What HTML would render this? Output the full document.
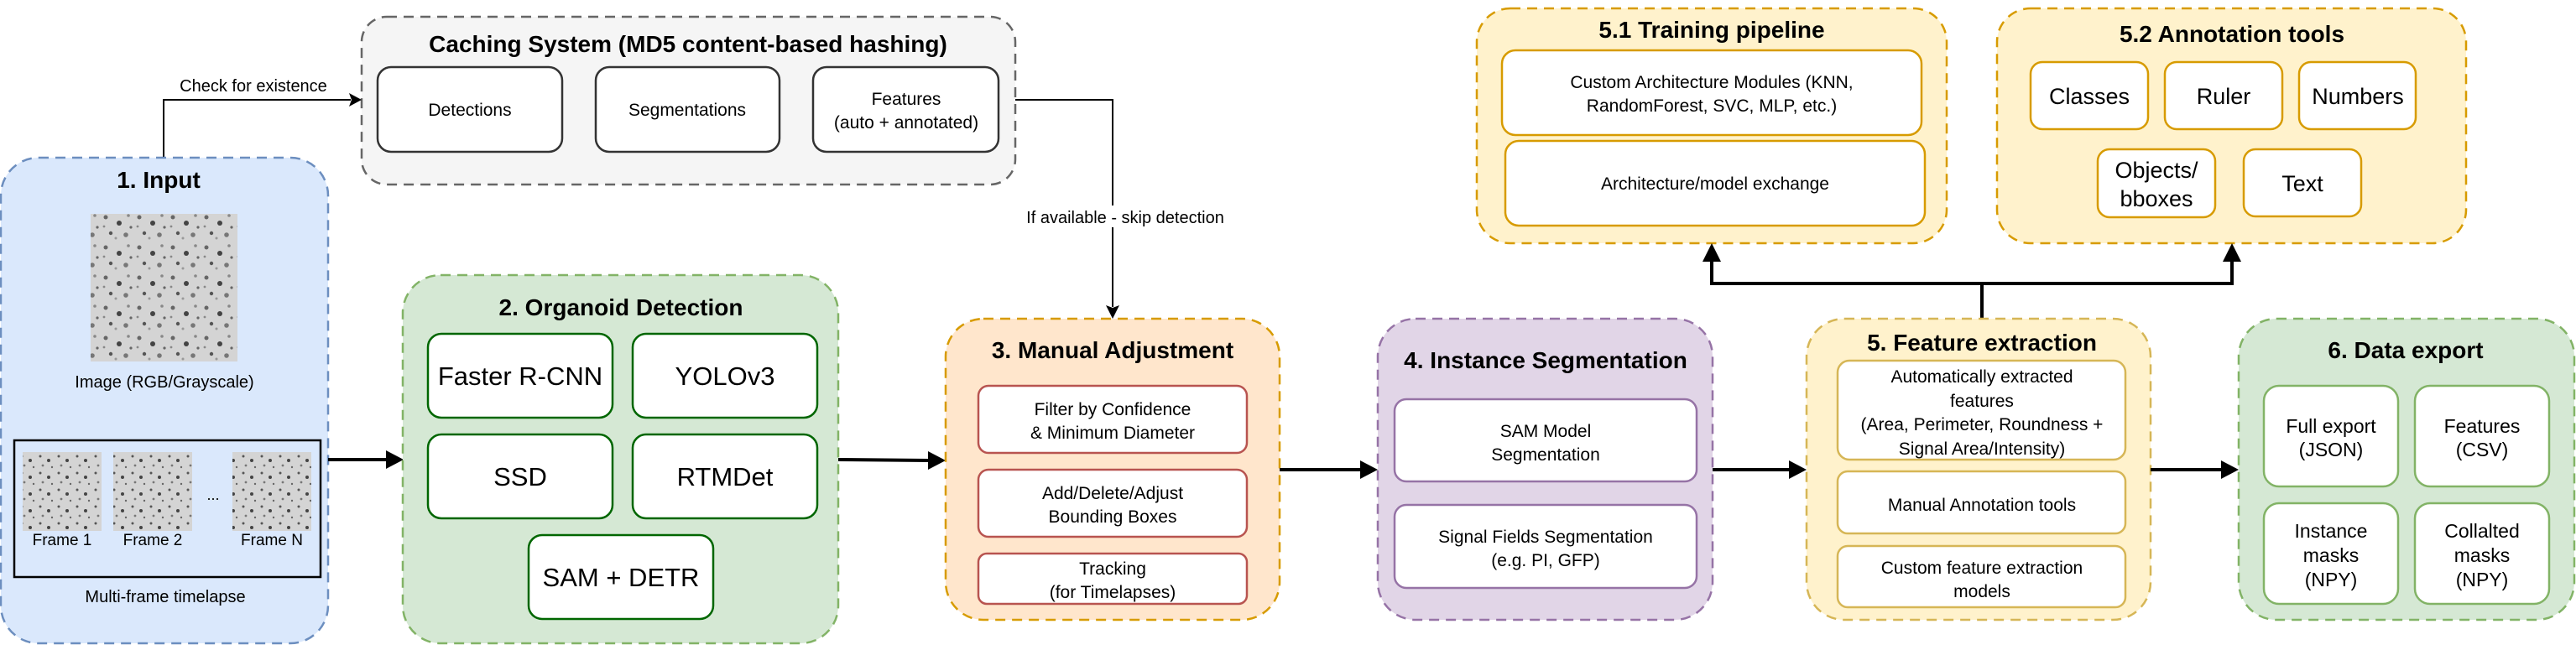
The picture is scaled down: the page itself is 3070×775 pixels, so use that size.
<!DOCTYPE html>
<html><head><meta charset="utf-8"><style>
html,body{margin:0;padding:0;background:#fff;}
svg text{font-family:"Liberation Sans",sans-serif;fill:#000;}
.t{font-weight:bold;font-size:28px;}
</style></head><body>
<svg width="3070" height="770" viewBox="0 0 3070 770" xmlns="http://www.w3.org/2000/svg">
<defs>
<pattern id="cells" width="40" height="36" patternUnits="userSpaceOnUse">
<rect width="40" height="36" fill="#d4d4d4"/>
<circle cx="6" cy="7" r="2.5" fill="#666"/><circle cx="22" cy="14" r="3" fill="#444"/>
<circle cx="33" cy="5" r="1.8" fill="#888"/><circle cx="12" cy="26" r="2.2" fill="#555"/>
<circle cx="30" cy="28" r="2.8" fill="#777"/><circle cx="18" cy="32" r="1.5" fill="#999"/>
<circle cx="36" cy="19" r="1.6" fill="#666"/><circle cx="4" cy="18" r="1.4" fill="#888"/>
</pattern>
<pattern id="cells2" width="22" height="20" patternUnits="userSpaceOnUse">
<rect width="22" height="20" fill="#d4d4d4"/>
<circle cx="4" cy="4" r="1.5" fill="#555"/><circle cx="14" cy="9" r="2" fill="#444"/>
<circle cx="7" cy="15" r="1.4" fill="#777"/><circle cx="18" cy="17" r="1.2" fill="#666"/>
</pattern>
</defs>

<!-- Caching -->
<rect x="431" y="20" width="779" height="200" rx="30" fill="#f5f5f5" stroke="#666" stroke-width="2.5" stroke-dasharray="12 8"/>
<text class="t" x="820" y="62" text-anchor="middle">Caching System (MD5 content-based hashing)</text>
<rect x="450" y="80" width="220" height="101" rx="16" fill="#fff" stroke="#333" stroke-width="2.5"/>
<text x="560" y="138" font-size="21" text-anchor="middle">Detections</text>
<rect x="710" y="80" width="219" height="101" rx="16" fill="#fff" stroke="#333" stroke-width="2.5"/>
<text x="819" y="138" font-size="21" text-anchor="middle">Segmentations</text>
<rect x="969" y="80" width="221" height="101" rx="16" fill="#fff" stroke="#333" stroke-width="2.5"/>
<text x="1080" y="125" font-size="21" text-anchor="middle">Features</text>
<text x="1080" y="153" font-size="21" text-anchor="middle">(auto + annotated)</text>

<!-- check for existence -->
<polyline points="195,188 195,119 418,119" fill="none" stroke="#000" stroke-width="2"/>
<polygon points="431,119 416,111 419,119 416,127" fill="#000"/>
<text x="302" y="109" font-size="20" text-anchor="middle">Check for existence</text>

<!-- If available -->
<polyline points="1210,119 1326,119 1326,366" fill="none" stroke="#000" stroke-width="2"/>
<polygon points="1326,380 1318,364 1326,367 1334,364" fill="#000"/>
<rect x="1210" y="245" width="262" height="26" fill="#fff"/>
<text x="1341" y="266" font-size="20" text-anchor="middle">If available - skip detection</text>

<!-- Input -->
<rect x="1" y="188" width="390" height="579" rx="45" fill="#dae8fc" stroke="#6c8ebf" stroke-width="2.5" stroke-dasharray="12 8"/>
<text class="t" x="189" y="224" text-anchor="middle">1. Input</text>
<rect x="108" y="255" width="175" height="176" fill="url(#cells)"/>
<text x="196" y="462" font-size="20" text-anchor="middle">Image (RGB/Grayscale)</text>
<rect x="17" y="525" width="365" height="163" fill="none" stroke="#000" stroke-width="2.5"/>
<rect x="27" y="539" width="94" height="94" fill="url(#cells2)"/>
<rect x="135" y="539" width="94" height="94" fill="url(#cells2)"/>
<rect x="277" y="539" width="94" height="94" fill="url(#cells2)"/>
<text x="254" y="596" font-size="18" text-anchor="middle">...</text>
<text x="74" y="650" font-size="19" text-anchor="middle">Frame 1</text>
<text x="182" y="650" font-size="19" text-anchor="middle">Frame 2</text>
<text x="324" y="650" font-size="19" text-anchor="middle">Frame N</text>
<text x="197" y="718" font-size="20" text-anchor="middle">Multi-frame timelapse</text>

<!-- arrow 1->2 -->
<line x1="391" y1="548" x2="462" y2="548" stroke="#000" stroke-width="4"/>
<polygon points="481,548 460,537 460,559" fill="#000"/>

<!-- Detection -->
<rect x="480" y="328" width="519" height="439" rx="45" fill="#d5e8d4" stroke="#82b366" stroke-width="2.5" stroke-dasharray="12 8"/>
<text class="t" x="740" y="376" text-anchor="middle">2. Organoid Detection</text>
<g fill="#fff" stroke="#006600" stroke-width="2.5">
<rect x="510" y="398" width="220" height="100" rx="16"/>
<rect x="754" y="398" width="220" height="100" rx="16"/>
<rect x="510" y="518" width="220" height="100" rx="16"/>
<rect x="754" y="518" width="220" height="100" rx="16"/>
<rect x="630" y="638" width="220" height="100" rx="16"/>
</g>
<g font-size="31" text-anchor="middle">
<text x="620" y="459">Faster R-CNN</text>
<text x="864" y="459">YOLOv3</text>
<text x="620" y="579">SSD</text>
<text x="864" y="579">RTMDet</text>
<text x="740" y="699">SAM + DETR</text>
</g>

<!-- arrow 2->3 -->
<line x1="999" y1="548" x2="1108" y2="549" stroke="#000" stroke-width="4"/>
<polygon points="1127,549 1106,538 1106,560" fill="#000"/>

<!-- Manual -->
<rect x="1127" y="380" width="398" height="359" rx="45" fill="#ffe6cc" stroke="#d79b00" stroke-width="2.5" stroke-dasharray="12 8"/>
<text class="t" x="1326" y="427" text-anchor="middle">3. Manual Adjustment</text>
<g fill="#fff" stroke="#b85450" stroke-width="2.5">
<rect x="1166" y="460" width="320" height="80" rx="12"/>
<rect x="1166" y="560" width="320" height="80" rx="12"/>
<rect x="1166" y="660" width="320" height="60" rx="10"/>
</g>
<g font-size="21" text-anchor="middle">
<text x="1326" y="495">Filter by Confidence</text>
<text x="1326" y="523">&amp; Minimum Diameter</text>
<text x="1326" y="595">Add/Delete/Adjust</text>
<text x="1326" y="623">Bounding Boxes</text>
<text x="1326" y="685">Tracking</text>
<text x="1326" y="713">(for Timelapses)</text>
</g>

<!-- arrow 3->4 -->
<line x1="1525" y1="560" x2="1623" y2="560" stroke="#000" stroke-width="4"/>
<polygon points="1642,560 1621,549 1621,571" fill="#000"/>

<!-- Segmentation -->
<rect x="1642" y="380" width="399" height="359" rx="45" fill="#e1d5e7" stroke="#9673a6" stroke-width="2.5" stroke-dasharray="12 8"/>
<text class="t" x="1842" y="439" text-anchor="middle">4. Instance Segmentation</text>
<g fill="#fff" stroke="#9673a6" stroke-width="2.5">
<rect x="1662" y="476" width="360" height="98" rx="14"/>
<rect x="1662" y="602" width="360" height="99" rx="14"/>
</g>
<g font-size="21" text-anchor="middle">
<text x="1842" y="521">SAM Model</text>
<text x="1842" y="549">Segmentation</text>
<text x="1842" y="647">Signal Fields Segmentation</text>
<text x="1842" y="675">(e.g. PI, GFP)</text>
</g>

<!-- arrow 4->5 -->
<line x1="2041" y1="560" x2="2134" y2="560" stroke="#000" stroke-width="4"/>
<polygon points="2153,560 2132,549 2132,571" fill="#000"/>

<!-- 5.1 -->
<rect x="1760" y="10" width="560" height="280" rx="40" fill="#fff2cc" stroke="#d79b00" stroke-width="2.5" stroke-dasharray="12 8"/>
<text class="t" x="2040" y="45" text-anchor="middle">5.1 Training pipeline</text>
<g fill="#fff" stroke="#d79b00" stroke-width="2.5">
<rect x="1790" y="60" width="500" height="101" rx="16"/>
<rect x="1794" y="168" width="500" height="101" rx="16"/>
</g>
<g font-size="21" text-anchor="middle">
<text x="2040" y="105">Custom Architecture Modules (KNN,</text>
<text x="2040" y="133">RandomForest, SVC, MLP, etc.)</text>
<text x="2044" y="226">Architecture/model exchange</text>
</g>

<!-- 5.2 -->
<rect x="2380" y="10" width="559" height="280" rx="40" fill="#fff2cc" stroke="#d79b00" stroke-width="2.5" stroke-dasharray="12 8"/>
<text class="t" x="2660" y="50" text-anchor="middle">5.2 Annotation tools</text>
<g fill="#fff" stroke="#d79b00" stroke-width="2.5">
<rect x="2420" y="74" width="140" height="80" rx="14"/>
<rect x="2580" y="74" width="140" height="80" rx="14"/>
<rect x="2740" y="74" width="139" height="80" rx="14"/>
<rect x="2500" y="178" width="140" height="81" rx="14"/>
<rect x="2674" y="178" width="140" height="80" rx="14"/>
</g>
<g font-size="27" text-anchor="middle">
<text x="2490" y="124">Classes</text>
<text x="2650" y="124">Ruler</text>
<text x="2810" y="124">Numbers</text>
<text x="2570" y="212">Objects/</text>
<text x="2570" y="246">bboxes</text>
<text x="2744" y="228">Text</text>
</g>

<!-- connectors to 5.1/5.2 -->
<polyline points="2040,310 2040,338 2660,338 2660,310" fill="none" stroke="#000" stroke-width="4"/>
<line x1="2362" y1="338" x2="2362" y2="380" stroke="#000" stroke-width="4"/>
<polygon points="2040,290 2029,312 2051,312" fill="#000"/>
<polygon points="2660,290 2649,312 2671,312" fill="#000"/>

<!-- 5 Feature extraction -->
<rect x="2153" y="380" width="410" height="359" rx="45" fill="#fff2cc" stroke="#d6b656" stroke-width="2.5" stroke-dasharray="12 8"/>
<text class="t" x="2362" y="418" text-anchor="middle">5. Feature extraction</text>
<g fill="#fff" stroke="#d6b656" stroke-width="2.5">
<rect x="2190" y="430" width="343" height="118" rx="14"/>
<rect x="2190" y="562" width="343" height="74" rx="12"/>
<rect x="2190" y="651" width="343" height="73" rx="12"/>
</g>
<g font-size="21" text-anchor="middle">
<text x="2362" y="456">Automatically extracted</text>
<text x="2362" y="485">features</text>
<text x="2362" y="513">(Area, Perimeter, Roundness +</text>
<text x="2362" y="542">Signal Area/Intensity)</text>
<text x="2362" y="609">Manual Annotation tools</text>
<text x="2362" y="684">Custom feature extraction</text>
<text x="2362" y="712">models</text>
</g>

<!-- arrow 5->6 -->
<line x1="2563" y1="560" x2="2649" y2="560" stroke="#000" stroke-width="4"/>
<polygon points="2668,560 2647,549 2647,571" fill="#000"/>

<!-- 6 Export -->
<rect x="2668" y="380" width="400" height="359" rx="45" fill="#d5e8d4" stroke="#82b366" stroke-width="2.5" stroke-dasharray="12 8"/>
<text class="t" x="2867" y="427" text-anchor="middle">6. Data export</text>
<g fill="#fff" stroke="#82b366" stroke-width="2.5">
<rect x="2698" y="460" width="160" height="120" rx="18"/>
<rect x="2878" y="460" width="160" height="120" rx="18"/>
<rect x="2698" y="600" width="160" height="120" rx="18"/>
<rect x="2878" y="600" width="160" height="120" rx="18"/>
</g>
<g font-size="23" text-anchor="middle">
<text x="2778" y="516">Full export</text>
<text x="2778" y="544">(JSON)</text>
<text x="2958" y="516">Features</text>
<text x="2958" y="544">(CSV)</text>
<text x="2778" y="641">Instance</text>
<text x="2778" y="670">masks</text>
<text x="2778" y="699">(NPY)</text>
<text x="2958" y="641">Collalted</text>
<text x="2958" y="670">masks</text>
<text x="2958" y="699">(NPY)</text>
</g>
</svg>
</body></html>
